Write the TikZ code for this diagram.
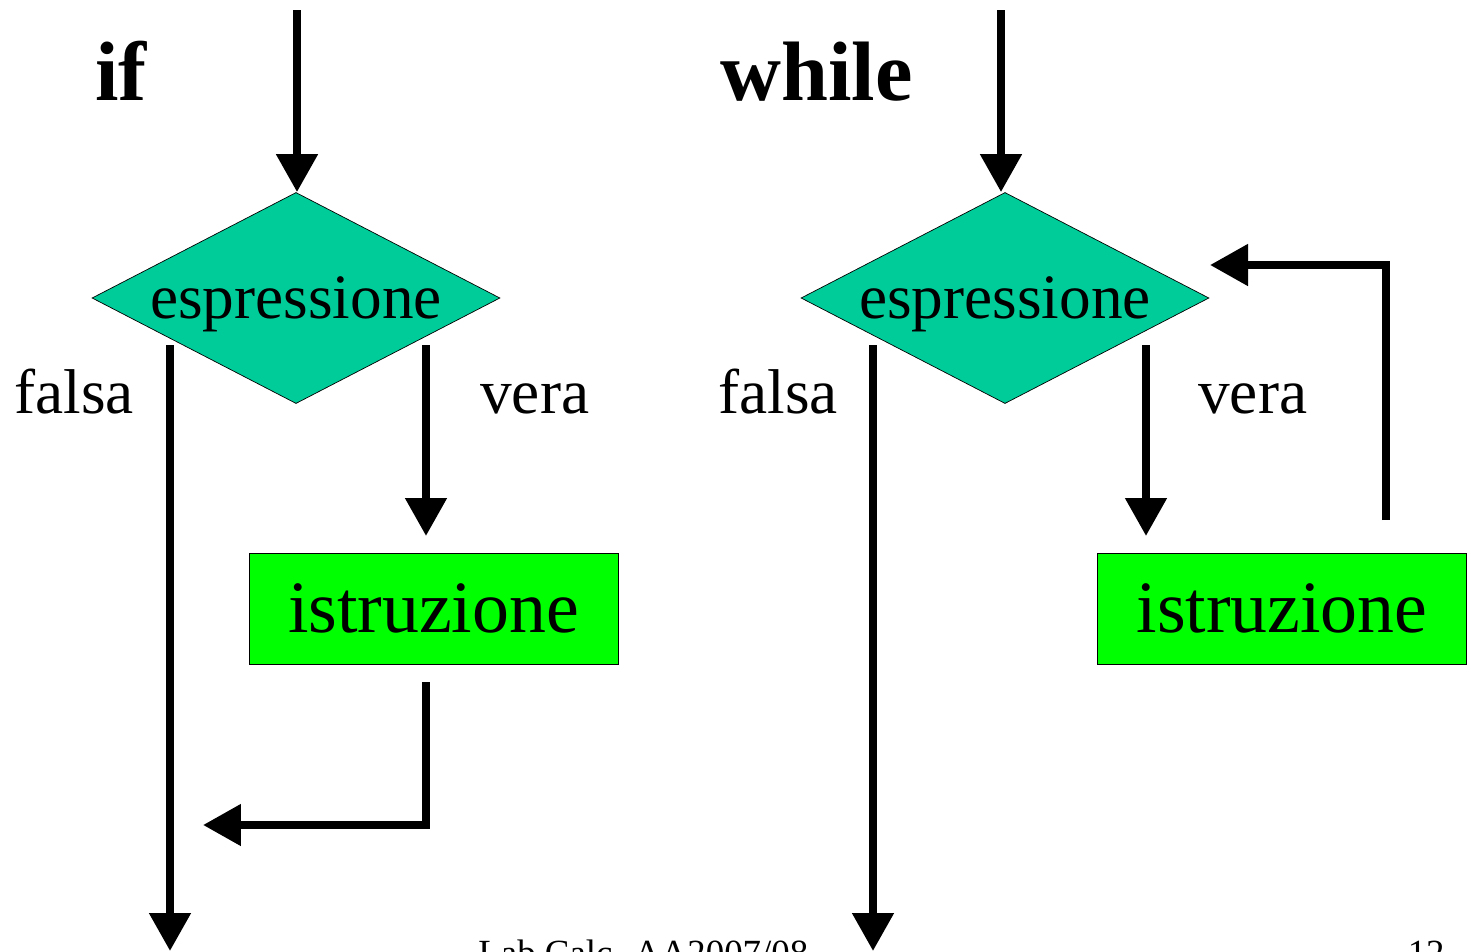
\documentclass[tikz,border=0pt]{standalone}
\usepackage{fontspec}
\setmainfont{Liberation Serif}
\usetikzlibrary{arrows.meta,shapes.geometric}

\begin{document}
\begin{tikzpicture}[x=0.02cm,y=-0.02cm,
    flow/.style={line width=0.16cm,-{Triangle[length=0.76cm,width=0.8cm]}},
    cond/.style={diamond,draw,thin,fill={rgb,255:red,0;green,204;blue,153},
      shape aspect=1.93,inner sep=0pt,minimum width=8.16cm,minimum height=4.22cm,
      text height=1.0cm,text depth=0.2cm,
      font=\fontsize{36}{40}\selectfont},
    stmt/.style={rectangle,draw,thin,fill={rgb,255:red,0;green,255;blue,0},
      inner sep=0pt,minimum width=7.38cm,minimum height=2.22cm,
      font=\fontsize{42}{46}\selectfont},
    lbl/.style={anchor=base west,inner sep=0pt,font=\fontsize{36}{40}\selectfont},
    ttl/.style={anchor=base west,inner sep=0pt,font=\fontsize{48}{52}\selectfont\bfseries}]
      \useasboundingbox (0,0) rectangle (1471,951);
      % if
      \node[ttl] (iftitle) at (95,100) {if};
      \node[cond] (ifcond) at (296,298) {espressione};
      \node[stmt] (ifstmt) at (433.5,608.5) {istruzione};
      \node[lbl] (iffalse) at (14,413) {falsa};
      \node[lbl] (iftrue) at (480,413) {vera};
      \coordinate (ifin) at (297,10);
      \coordinate (ifno) at (170,345);
      \coordinate (ifend) at (170,951);
      \coordinate (ifyes) at (426,345);
      \coordinate (ifyesend) at (426,536);
      \coordinate (ifback) at (426,682);
      \coordinate (ifjoin) at (203,825);
      \draw[flow] (ifin) -- (ifin |- ifcond.north);
      \draw[flow] (ifno) -- (ifend);
      \draw[flow] (ifyes) -- (ifyesend);
      \draw[flow] (ifback) |- (ifjoin);
      % while
      \node[ttl] (whtitle) at (720,100) {while};
      \node[cond] (whcond) at (1005,298) {espressione};
      \node[stmt] (whstmt) at (1282,608.5) {istruzione};
      \node[lbl] (whfalse) at (718,413) {falsa};
      \node[lbl] (whtrue) at (1198,413) {vera};
      \coordinate (whin) at (1001,10);
      \coordinate (whno) at (873,345);
      \coordinate (whend) at (873,951);
      \coordinate (whyes) at (1146,345);
      \coordinate (whyesend) at (1146,536);
      \coordinate (whback) at (1386,520);
      \coordinate (whloop) at (1210,265);
      \draw[flow] (whin) -- (whin |- whcond.north);
      \draw[flow] (whno) -- (whend);
      \draw[flow] (whyes) -- (whyesend);
      \draw[flow] (whback) |- (whloop);
      % footer
      \node[anchor=base west,inner sep=0pt,font=\fontsize{21}{24}\selectfont] (foot) at (478,965) {Lab Calc. AA2007/08};
      \node[anchor=base east,inner sep=0pt,font=\fontsize{21}{24}\selectfont] (page) at (1445,965) {12};
\end{tikzpicture}
\end{document}
